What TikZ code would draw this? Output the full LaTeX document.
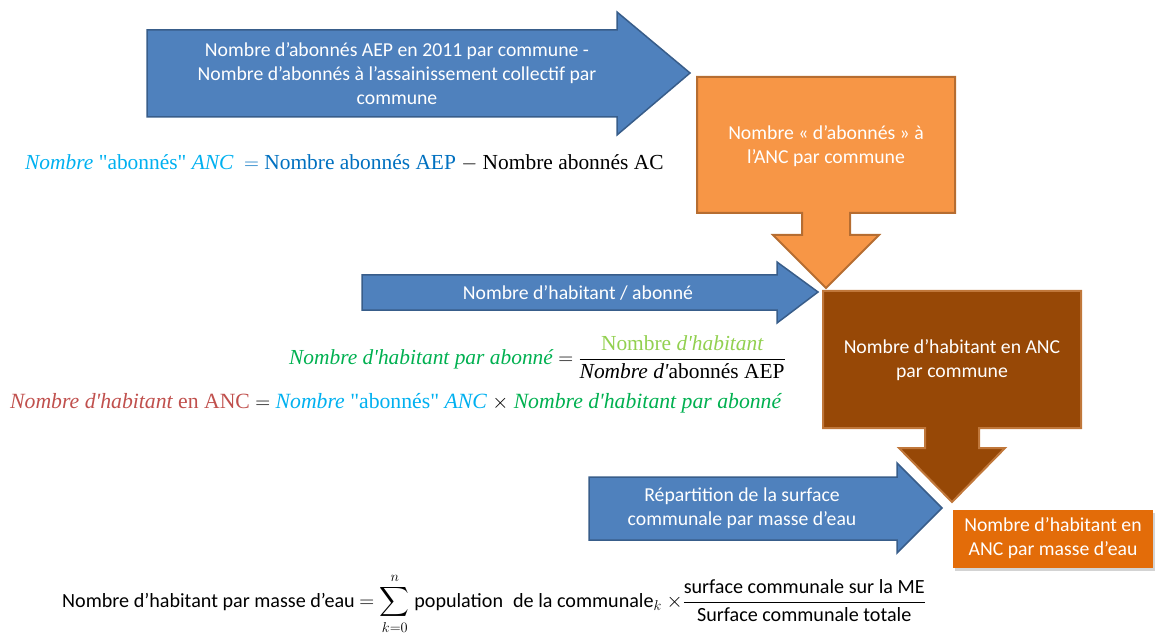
\documentclass[tikz,border=0pt]{standalone}
\usepackage{amsmath}
\usepackage{fontspec}
\setmainfont{Carlito}
\newfontfamily\eqfont{Liberation Serif}
\usepackage{tikz}
\usetikzlibrary{shadows}

\definecolor{flowblue}{HTML}{4F81BD}
\definecolor{flowblueedge}{HTML}{385D8A}
\definecolor{ancorange}{HTML}{F79646}
\definecolor{ancorangeedge}{HTML}{B66D31}
\definecolor{habbrown}{HTML}{974806}
\definecolor{habbrownedge}{HTML}{C0773A}
\definecolor{meorange}{HTML}{E36C09}
\definecolor{eqcyan}{HTML}{00B0F0}
\definecolor{eqblue}{HTML}{0070C0}
\definecolor{eqgreen}{HTML}{00B050}
\definecolor{eqlight}{HTML}{92D050}
\definecolor{eqred}{HTML}{C0504D}

\begin{document}
\begin{tikzpicture}[x=1bp, y=-1bp,
    bluearrow/.style={fill=flowblue, draw=flowblueedge, line width=1.5bp, line join=miter},
    lbl/.style={text=white, align=center, font=\fontsize{19.8}{24}\selectfont},
    eq/.style={inner sep=0pt, font=\fontsize{21.5}{26}\selectfont}]
    \useasboundingbox (0,0) rectangle (1157,638);

    % block arrows
    \draw[bluearrow] (147,30) -- (617,30) -- (617,12) -- (690,73) -- (617,135) -- (617,117) -- (147,117) -- cycle;
    \draw[bluearrow] (362,275) -- (777,275) -- (777,262) -- (818,292) -- (777,323) -- (777,310) -- (362,310) -- cycle;
    \draw[bluearrow] (589,477) -- (897,477) -- (897,463) -- (942,508) -- (897,553) -- (897,540) -- (589,540) -- cycle;

    % callouts
    \draw[fill=ancorange, draw=ancorangeedge, line width=2bp] (697,77) -- (955,77) -- (955,213) -- (850,213) -- (850,235)
        -- (879,235) -- (826,288) -- (773,235) -- (802,235) -- (802,213) -- (697,213) -- cycle;
    \draw[fill=habbrown, draw=habbrownedge, line width=2bp] (823,291) -- (1081,291) -- (1081,428) -- (979,428) -- (979,448)
        -- (1005,448) -- (952,502) -- (899,448) -- (925,448) -- (925,428) -- (823,428) -- cycle;
    \fill[meorange, drop shadow={opacity=0.35, shadow xshift=2bp, shadow yshift=-3bp}] (953,510) rectangle (1153,568);

    \node[lbl] (abonnesAEP) at (397,74) {Nombre d’abonnés AEP en 2011 par commune -\\Nombre d’abonnés à l’assainissement collectif par\\commune};
    \node[lbl] (abonnesANC) at (826,146) {Nombre «~d’abonnés~» à\\l’ANC par commune};
    \node[lbl] (habAbonne) at (578,293) {Nombre d’habitant / abonné};
    \node[lbl] (habANC) at (952,360) {Nombre d’habitant en ANC\\par commune};
    \node[lbl] (surfME) at (742,508) {Répartition de la surface\\communale par masse d’eau};
    \node[lbl] (habME) at (1053,538) {Nombre d’habitant en\\ANC par masse d’eau};

    % formulas
    \node[eq, anchor=west] (eqANC) at (25,163) {\eqfont
        {\color{eqcyan}\itshape Nombre \upshape "abonnés" \itshape ANC}\ \
        {\color{eqblue}$=$ Nombre abonnés AEP}\ $-$ Nombre abonnés AC};
    \node[eq, anchor=east] (eqParAbonne) at (786,357) {\eqfont
        {\color{eqgreen}\itshape Nombre d'habitant par abonné} $=$
        $\dfrac{\text{\eqfont\color{eqlight}Nombre \itshape d'habitant}}{\text{\eqfont\itshape Nombre d'\upshape abonnés AEP}}$};
    \node[eq, anchor=west, font=\fontsize{21.8}{26}\selectfont] (eqHabANC) at (10,403) {\eqfont
        {\color{eqred}\itshape Nombre d'habitant \upshape en ANC} $=$
        {\color{eqcyan}\itshape Nombre \upshape "abonnés" \itshape ANC} $\times$
        {\color{eqgreen}\itshape Nombre d'habitant par abonné}};
    \node[eq, anchor=west, font=\fontsize{20.2}{25}\selectfont] (eqHabME) at (62,604) {Nombre d’habitant par masse d’eau $=
        \displaystyle\sum_{k=0}^{n}$ population\enspace de la communale$_k$ $\times
        \dfrac{\text{surface communale sur la ME}}{\text{Surface communale totale}}$};
\end{tikzpicture}
\end{document}
